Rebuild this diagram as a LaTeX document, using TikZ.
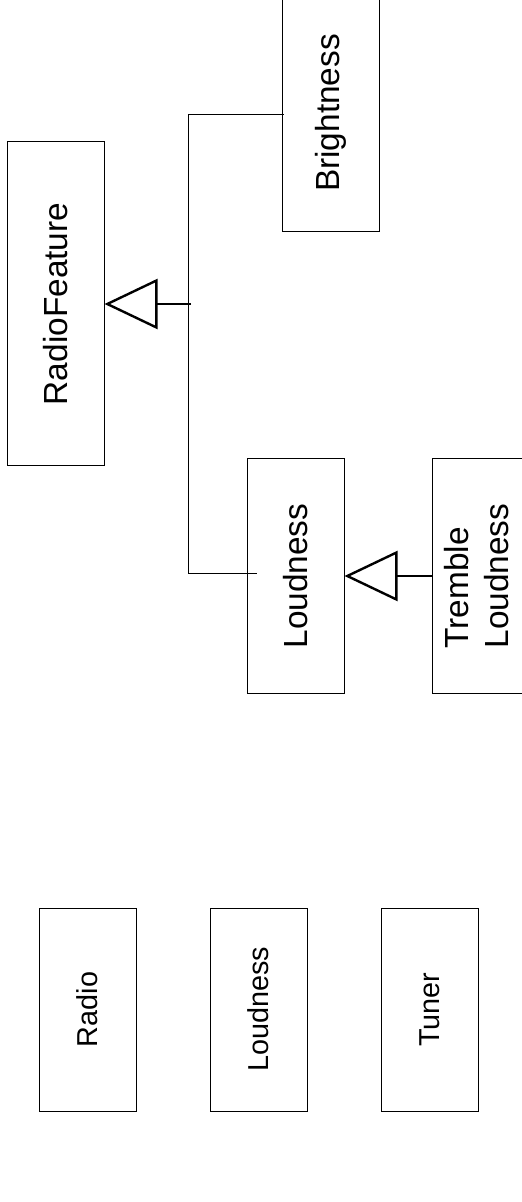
\documentclass[tikz,border=0pt]{standalone}
\usepackage{fontspec}
\setmainfont{Liberation Sans}
\usetikzlibrary{arrows.meta}

\begin{document}
\begin{tikzpicture}[x=0.5pt, y=-0.5pt,
    klass/.style={draw, line width=0.5pt, minimum width=48.5pt, inner sep=0pt,
                  font=\fontsize{16.7}{20.1}\selectfont},
    smallklass/.style={klass, minimum height=101.5pt, font=\fontsize{14.4}{17.3}\selectfont},
    arv/.style={line width=1.2pt, -{Triangle[open, length=26.5pt, width=25pt]}},
    tree/.style={line width=0.5pt}]
  \useasboundingbox (0, 0) rectangle (522, 1202);
  % arvshierarkin
  \node[klass, minimum height=162pt] (radiofeature) at (55.5, 304) {\rotatebox{90}{RadioFeature}};
  \node[klass, minimum height=119pt] (brightness) at (330.5, 113) {\rotatebox{90}{Brightness}};
  \node[klass, minimum height=117pt] (loudness) at (295.5, 576) {\rotatebox{90}{Loudness}};
  \node[klass, minimum height=117pt] (tremble) at (480.5, 576)
    {\rotatebox{90}{\begin{tabular}{@{}l@{}}Tremble\\Loudness\end{tabular}}};
  \coordinate (jtop) at (188, 115);
  \coordinate (jbot) at (188, 573);
  \coordinate (jmid) at (191, 304);
  \draw[tree] (jtop) -- (jbot);
  \draw[tree] (jtop) -- ([xshift=1pt]brightness.west |- jtop);
  \draw[tree] (jbot) -- ([xshift=5pt]loudness.west |- jbot);
  \draw[arv] (jmid) -- (radiofeature.east);
  \draw[arv] (tremble.west) -- (loudness.east);
  % klasser nere
  \node[smallklass] (radio) at (87.5, 1009.5) {\rotatebox{90}{Radio}};
  \node[smallklass] (loudness2) at (258.5, 1009.5) {\rotatebox{90}{Loudness}};
  \node[smallklass] (tuner) at (429.5, 1009.5) {\rotatebox{90}{Tuner}};
\end{tikzpicture}
\end{document}
